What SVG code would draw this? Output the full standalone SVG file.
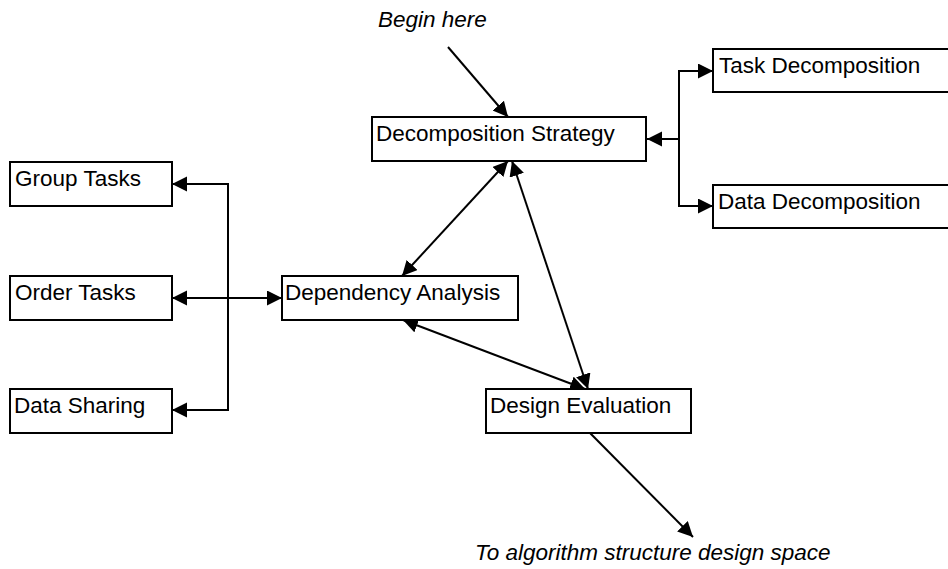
<svg xmlns="http://www.w3.org/2000/svg" width="948" height="569" viewBox="0 0 948 569">
<style>
.box{fill:#fff;stroke:#000;stroke-width:2}
.lbl{font-family:"Liberation Sans",Arial,sans-serif;font-size:22.5px;fill:#000}
.it{font-family:"Liberation Sans",Arial,sans-serif;font-size:22.5px;font-style:italic;fill:#000}
.c{fill:none;stroke:#000;stroke-width:2}
</style>
<defs>
<marker id="ah" markerUnits="userSpaceOnUse" markerWidth="16" markerHeight="16" refX="15" refY="7.5" orient="auto-start-reverse" viewBox="0 0 16 16">
<path d="M0,0 L15,7.5 L0,15 z" fill="#000"/>
</marker>
</defs>
<rect width="948" height="569" fill="#fff"/>
<g id="connectors">
<line class="c" x1="448" y1="47" x2="508" y2="117" marker-end="url(#ah)"/>
<line class="c" x1="679" y1="139" x2="647" y2="139" marker-end="url(#ah)"/>
<polyline class="c" points="713,71 679,71 679,206 713,206" marker-start="url(#ah)" marker-end="url(#ah)"/>
<polyline class="c" points="172,184 228,184 228,410 172,410" marker-start="url(#ah)" marker-end="url(#ah)"/>
<line class="c" x1="172" y1="298" x2="282" y2="298" marker-start="url(#ah)" marker-end="url(#ah)"/>
<line class="c" x1="508" y1="161" x2="402" y2="276" marker-start="url(#ah)" marker-end="url(#ah)"/>
<line class="c" x1="512" y1="161" x2="588" y2="389" marker-start="url(#ah)" marker-end="url(#ah)"/>
<line class="c" x1="403" y1="320" x2="585" y2="389" marker-start="url(#ah)" marker-end="url(#ah)"/>
<line class="c" x1="590" y1="433" x2="693" y2="537" marker-end="url(#ah)"/>
</g>
<g id="begin"><text class="it" x="378" y="27">Begin here</text></g>
<g id="decomp-strategy"><rect class="box" x="372" y="117" width="274" height="44"/><text class="lbl" x="376" y="141">Decomposition Strategy</text></g>
<g id="task-decomp"><rect class="box" x="713" y="49" width="245" height="43"/><text class="lbl" x="719" y="73">Task Decomposition</text></g>
<g id="data-decomp"><rect class="box" x="713" y="185" width="245" height="43"/><text class="lbl" x="718" y="209">Data Decomposition</text></g>
<g id="group-tasks"><rect class="box" x="10" y="162" width="162" height="44"/><text class="lbl" x="15" y="186">Group Tasks</text></g>
<g id="order-tasks"><rect class="box" x="10" y="276" width="162" height="44"/><text class="lbl" x="15" y="300">Order Tasks</text></g>
<g id="data-sharing"><rect class="box" x="10" y="389" width="162" height="44"/><text class="lbl" x="14" y="413">Data Sharing</text></g>
<g id="dep-analysis"><rect class="box" x="282" y="276" width="236" height="44"/><text class="lbl" x="285" y="300">Dependency Analysis</text></g>
<g id="design-eval"><rect class="box" x="486" y="389" width="205" height="44"/><text class="lbl" x="490" y="413">Design Evaluation</text></g>
<g id="to-algo"><text class="it" x="475" y="560">To algorithm structure design space</text></g>
</svg>
